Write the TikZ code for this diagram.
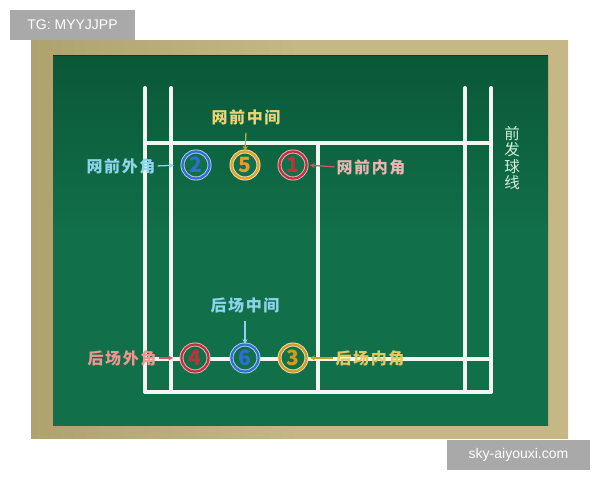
\documentclass[tikz,border=0pt]{standalone}
\usepackage{fontspec}
\setmainfont{Liberation Sans}
\newfontfamily\cjk[LetterSpace=10]{Noto Sans CJK SC}
\newfontfamily\vcjk{Noto Sans CJK SC}
\usetikzlibrary{arrows.meta}
\definecolor{board}{HTML}{11704A}
\definecolor{boarddark}{HTML}{0A5838}
\definecolor{wood}{HTML}{C6B885}
\definecolor{wooddark}{HTML}{AEA26E}
\definecolor{wmgray}{HTML}{A9A9A9}
\definecolor{cblue}{HTML}{2F6FD2}
\definecolor{corange}{HTML}{E0A12A}
\definecolor{cred}{HTML}{C2303C}
\definecolor{cgold}{HTML}{D29B22}
\definecolor{lblue}{HTML}{8ED4EC}
\definecolor{lyellow}{HTML}{EBD475}
\definecolor{lpink}{HTML}{EDB2B2}
\definecolor{lred}{HTML}{EE9690}
\definecolor{lgold}{HTML}{E6C660}
\definecolor{lgreen}{HTML}{D2EEDA}
\definecolor{court}{HTML}{F2F6F2}
\tikzset{
  court line/.style={draw=court, line width=4pt, line cap=round, line join=round},
  numc/.style={circle, minimum size=27pt, inner sep=0pt, fill=board,
    draw=#1!35!white, double=#1, double distance=2.2pt, line width=0.9pt,
    text=#1, font=\vcjk\bfseries\fontsize{21}{21}\selectfont},
  lab/.style={inner sep=0pt, text=#1, font=\cjk\bfseries\fontsize{16}{16}\selectfont},
  arr/.style={draw=#1, line width=1.3pt, -{Stealth[length=5pt,width=5pt]}},
  wm/.style={fill=wmgray, text=white, inner sep=0pt, font=\fontsize{14}{14}\selectfont}
}
\begin{document}
\begin{tikzpicture}[x=1pt,y=-1pt]
\useasboundingbox (0,0) rectangle (600,480);
\fill[white] (0,0) rectangle (600,480);
% frame
\shade[left color=wooddark, right color=wood, middle color=wood] (31,40) rectangle (568,438);
% board
\shade[top color=boarddark, bottom color=board, middle color=board] (53,55) rectangle (548,425);
\draw[boarddark!70!black, line width=1.5pt] (53,55.5) -- (548,55.5);
% court lines
\path[court line] (145,88) -- (145,392) -- (491,392) -- (491,88);
\path[court line] (171,88) -- (171,392);
\path[court line] (465,88) -- (465,392);
\path[court line] (145,143) -- (491,143);
\path[court line] (145,359) -- (491,359);
\path[court line] (318,143) -- (318,392);
% number circles
\node[numc=cblue]   (c2) at (196,165) {2};
\node[numc=corange] (c5) at (245,165) {5};
\node[numc=cred]    (c1) at (293,165) {1};
\node[numc=cred]    (c4) at (195,358) {4};
\node[numc=cblue]   (c6) at (245,358) {6};
\node[numc=cgold]   (c3) at (293,358) {3};
% labels
\node[lab=lyellow] (l5) at (246,117) {网前中间};
\node[lab=lblue]   (l2) at (121,166) {网前外角};
\node[lab=lpink]   (l1) at (371,167) {网前内角};
\node[lab=lblue]   (l6) at (245,305) {后场中间};
\node[lab=lred]    (l4) at (122,358) {后场外角};
\node[lab=lgold]   (l3) at (370,358) {后场内角};
\node[inner sep=0pt, text=lgreen, align=center, font=\vcjk\fontsize{15.5}{16.5}\selectfont] (qf) at (512,158) {前\\发\\球\\线};
% arrows
\draw[arr=corange] (l5.south) ++(0,8) coordinate (a5) -- (c5.north);
\draw[arr=lblue] (l6.south) ++(0,8) coordinate (a6) -- (c6.north);
\draw[arr=lblue, shorten <=2pt, shorten >=8pt] (l2.east) -- (c2.west);
\draw[arr=cred!80!white, shorten <=2pt, shorten >=3pt] (l1.west) -- (c1.east);
\draw[arr=cred!80!white, shorten <=2pt, shorten >=8pt] (l4.east) -- (c4.west);
\draw[arr=cgold, shorten <=2pt, shorten >=3pt] (l3.west) -- (c3.east);
% watermarks
\node[wm, minimum width=125pt, minimum height=30pt] (w1) at (72.5,25) {TG: MYYJJPP};
\node[wm, minimum width=143pt, minimum height=30pt] (w2) at (518.5,455) {sky-aiyouxi.com};
\end{tikzpicture}
\end{document}
